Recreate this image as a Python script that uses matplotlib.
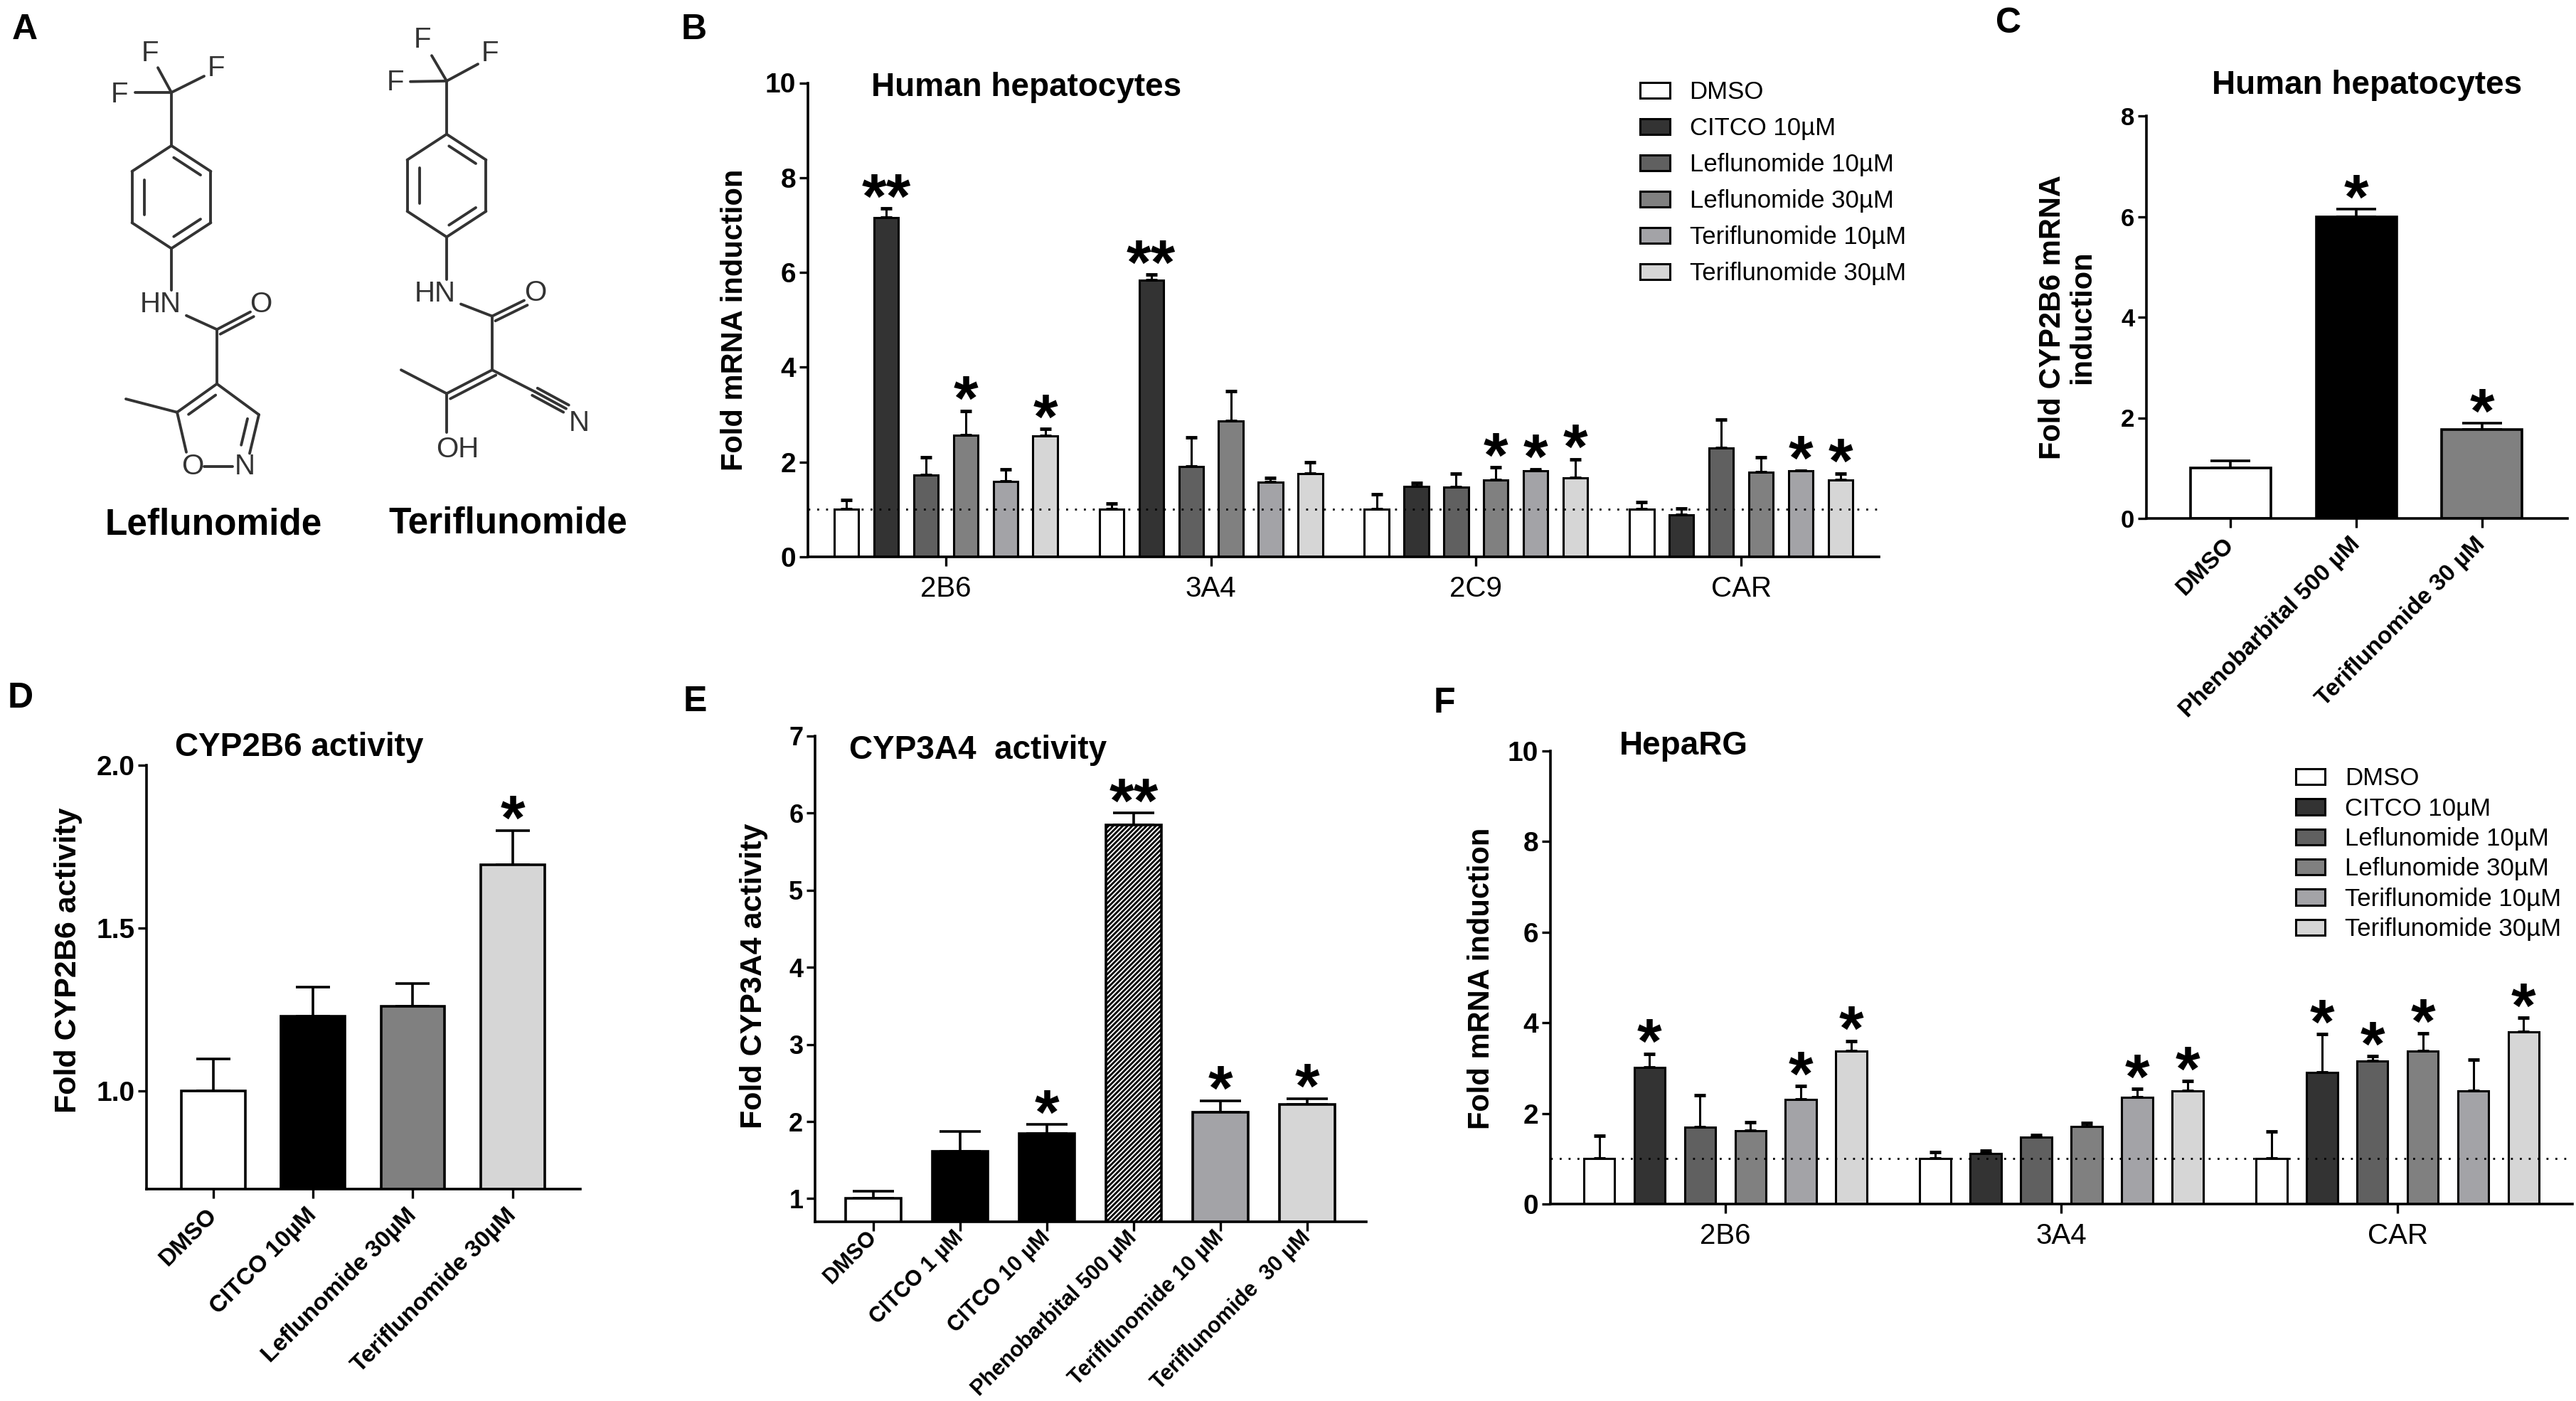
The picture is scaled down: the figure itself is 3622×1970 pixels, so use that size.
import numpy as np
import matplotlib
matplotlib.use("Agg")
import matplotlib.pyplot as plt

plt.rcParams['font.family'] = ['Liberation Sans', 'DejaVu Sans']
plt.rcParams['hatch.linewidth'] = 2.0

W, H = 3623, 1970

# ---- data -------------------------------------------------------------
treat_names = ['DMSO', 'CITCO 10µM', 'Leflunomide 10µM', 'Leflunomide 30µM',
               'Teriflunomide 10µM', 'Teriflunomide 30µM']
treat_colors = ['white', '#333333', '#606060', '#808080', '#a3a3a7', '#d6d6d6']

# B: human hepatocytes, mRNA
b_genes = ['2B6', '3A4', '2C9', 'CAR']
b_mean = [[1.00, 1.00, 1.00, 1.00],
          [7.15, 5.83, 1.49, 0.89],
          [1.73, 1.90, 1.47, 2.29],
          [2.57, 2.87, 1.62, 1.78],
          [1.59, 1.57, 1.81, 1.81],
          [2.55, 1.75, 1.66, 1.62]]
b_err = [[0.20, 0.12, 0.32, 0.16],
         [0.20, 0.12, 0.07, 0.13],
         [0.37, 0.62, 0.28, 0.61],
         [0.51, 0.62, 0.27, 0.32],
         [0.25, 0.09, 0.04, 0.01],
         [0.15, 0.25, 0.40, 0.14]]
b_star = [['', '', '', ''],
          ['**', '**', '', ''],
          ['', '', '', ''],
          ['*', '', '*', ''],
          ['', '', '*', '*'],
          ['*', '', '*', '*']]

# C: CYP2B6 mRNA
c_labels = ['DMSO', 'Phenobarbital 500 µM', 'Teriflunomide 30 µM']
c_mean = [1.00, 5.99, 1.76]
c_err = [0.15, 0.16, 0.13]
c_star = ['', '*', '*']
c_colors = ['white', 'black', '#808080']

# D: CYP2B6 activity
d_labels = ['DMSO', 'CITCO 10µM', 'Leflunomide 30µM', 'Teriflunomide 30µM']
d_mean = [1.00, 1.23, 1.26, 1.695]
d_err = [0.10, 0.09, 0.07, 0.105]
d_star = ['', '', '', '*']
d_colors = ['white', 'black', '#808080', '#d6d6d6']

# E: CYP3A4 activity
e_labels = ['DMSO', 'CITCO 1 µM', 'CITCO 10 µM', 'Phenobarbital 500 µM',
            'Teriflunomide 10 µM', 'Teriflunomide  30 µM']
e_mean = [1.00, 1.61, 1.84, 5.85, 2.12, 2.22]
e_err = [0.10, 0.26, 0.12, 0.15, 0.15, 0.08]
e_star = ['', '', '*', '**', '*', '*']
e_colors = ['white', 'black', 'black', 'white', '#a3a3a7', '#d6d6d6']
e_hatch = ['', '', '', '/////', '', '']

# F: HepaRG mRNA
f_genes = ['2B6', '3A4', 'CAR']
f_mean = [[1.00, 1.00, 1.00],
          [3.01, 1.11, 2.91],
          [1.69, 1.48, 3.16],
          [1.62, 1.71, 3.37],
          [2.30, 2.35, 2.50],
          [3.37, 2.50, 3.80]]
f_err = [[0.50, 0.14, 0.60],
         [0.31, 0.06, 0.84],
         [0.71, 0.04, 0.10],
         [0.19, 0.08, 0.40],
         [0.30, 0.19, 0.69],
         [0.23, 0.21, 0.31]]
f_star = [['', '', ''],
          ['*', '', '*'],
          ['', '', '*'],
          ['', '', '*'],
          ['*', '*', ''],
          ['*', '*', '*']]

fig = plt.figure(figsize=(W / 100, H / 100), dpi=100)


def box(x0, y0, x1, y1):
    return [x0 / W, 1 - y1 / H, (x1 - x0) / W, (y1 - y0) / H]


def ftext(x, y, s, **kw):
    fig.text(x / W, 1 - y / H, s, **kw)


def style_axes(ax, tick_size, tick_bold=True):
    for sp in ['top', 'right']:
        ax.spines[sp].set_visible(False)
    for sp in ['left', 'bottom']:
        ax.spines[sp].set_linewidth(2.6)
    ax.tick_params(direction='out', length=9, width=2.4, pad=3)
    for lab in ax.get_yticklabels():
        lab.set_fontsize(tick_size)
        if tick_bold:
            lab.set_fontweight('bold')


def stars(ax, x, top, s, size=64):
    if s:
        ax.annotate(s, (x, top), xytext=(0, -9), textcoords='offset points',
                    ha='center', va='baseline', fontsize=size,
                    fontweight='bold')


# ---- grouped panels (B, F) ---------------------------------------------
def grouped(ax, genes, means, errs, marks, ymax, legend_anchor, lspace):
    xg = np.arange(len(genes))
    step, bw = 0.15, 0.092
    for k in range(len(treat_names)):
        xs = xg + (k - 2.5) * step
        m = np.array(means[k])
        e = np.array(errs[k])
        ax.bar(xs, m, width=bw, color=treat_colors[k], edgecolor='black',
               linewidth=2.2, label=treat_names[k], zorder=2)
        ax.errorbar(xs, m, yerr=[np.zeros_like(e), e], fmt='none', ecolor='black',
                    elinewidth=2.2, capsize=6, capthick=3.5, zorder=1.5)
        for i in range(len(genes)):
            stars(ax, xs[i], m[i] + e[i], marks[k][i])
    ax.axhline(1, color='black', ls=(0, (1, 3.5)), lw=2, zorder=3)
    ax.set_xlim(-0.52, len(genes) - 1 + 0.52)
    ax.set_ylim(0, ymax)
    ax.set_yticks(np.arange(0, ymax + 1, 2))
    ax.set_xticks(xg)
    ax.set_xticklabels(genes, fontsize=29)
    style_axes(ax, 28)
    ax.tick_params(axis='x', pad=10)
    ax.legend(loc='upper left', bbox_to_anchor=legend_anchor, frameon=False,
              fontsize=25, handlelength=1.2, handleheight=0.62,
              handletextpad=0.8, labelspacing=lspace, borderpad=0,
              borderaxespad=0)


axB = fig.add_axes(box(1136, 116.5, 2642, 783))
grouped(axB, b_genes, b_mean, b_err, b_star, 10, (0.777, 1.005), 0.52)
ftext(1225, 135, 'Human hepatocytes', fontsize=33, fontweight='bold',
      ha='left', va='baseline')
ftext(1033, 450, 'Fold mRNA induction', fontsize=30, fontweight='bold',
      rotation=90, ha='center', va='center')

axF = fig.add_axes(box(2180, 1056, 3617, 1693))
grouped(axF, f_genes, f_mean, f_err, f_star, 10, (0.729, 0.965), 0.27)
ftext(2277, 1061, 'HepaRG', fontsize=33, fontweight='bold',
      ha='left', va='baseline')
ftext(2083, 1376, 'Fold mRNA induction', fontsize=30, fontweight='bold',
      rotation=90, ha='center', va='center')


# ---- single panels (C, D, E) -------------------------------------------
def single(ax, labels, means, errs, marks, colors, ylim, yticks, fmt, tsize,
           capsize, lsize=24, lpad=14, hatches=None):
    x = np.arange(len(means))
    m = np.array(means)
    e = np.array(errs)
    bars = ax.bar(x, m, width=0.64, color=colors, edgecolor='black',
                  linewidth=2.6, zorder=2)
    if hatches:
        for b, h in zip(bars, hatches):
            b.set_hatch(h)
    ax.errorbar(x, m, yerr=[np.zeros_like(e), e], fmt='none', ecolor='black',
                elinewidth=2.6, capsize=capsize, capthick=2.6, zorder=1.5)
    for i in range(len(means)):
        stars(ax, x[i], m[i] + e[i], marks[i])
    ax.set_xlim(-0.67, len(means) - 1 + 0.68)
    ax.set_ylim(*ylim)
    ax.set_yticks(yticks)
    ax.set_yticklabels([fmt.format(v) for v in yticks])
    ax.set_xticks(x)
    ax.set_xticklabels(labels, rotation=45, ha='right', va='center',
                       rotation_mode='anchor', fontsize=lsize, fontweight='bold')
    style_axes(ax, tsize)
    ax.tick_params(axis='x', pad=lpad)


axC = fig.add_axes(box(3018, 163, 3610, 729))
single(axC, c_labels, c_mean, c_err, c_star, c_colors, (0, 8), [0, 2, 4, 6, 8],
       '{:g}', 25, 20)
ftext(3328, 132, 'Human hepatocytes', fontsize=33, fontweight='bold',
      ha='center', va='baseline')
ftext(2907, 446, 'Fold CYP2B6 mRNA\ninduction', fontsize=30, fontweight='bold',
      rotation=90, ha='center', va='center', linespacing=1.05)

axD = fig.add_axes(box(206, 1076, 816, 1672))
single(axD, d_labels, d_mean, d_err, d_star, d_colors, (0.7, 2.0),
       [1.0, 1.5, 2.0], '{:.1f}', 28, 17)
ftext(421, 1063, 'CYP2B6 activity', fontsize=33, fontweight='bold',
      ha='center', va='baseline')
ftext(96, 1350, 'Fold CYP2B6 activity', fontsize=31, fontweight='bold',
      rotation=90, ha='center', va='center')

axE = fig.add_axes(box(1146, 1035, 1921, 1718))
single(axE, e_labels, e_mean, e_err, e_star, e_colors, (0.7, 7),
       [1, 2, 3, 4, 5, 6, 7], '{:g}', 26, 21, lsize=22, lpad=4,
       hatches=e_hatch)
ftext(1194, 1067, 'CYP3A4  activity', fontsize=33, fontweight='bold',
      ha='left', va='baseline')
ftext(1060, 1372, 'Fold CYP3A4 activity', fontsize=31, fontweight='bold',
      rotation=90, ha='center', va='center')

# ---- panel A: structures -----------------------------------------------
# drawn in a local frame; the y range is stretched so the frame maps onto
# the 950 px tall region at 0.85 scale
axA = fig.add_axes(box(0, 0, 1000, 950))
axA.set_xlim(0, 1000)
axA.set_ylim(950 / 0.85, 0)
axA.axis('off')
ink = '#333333'
blw = 2.8


def bond(p, q):
    axA.plot([p[0], q[0]], [p[1], q[1]], color=ink, lw=blw,
             solid_capstyle='round')


def inner(p, q, c, off=0.2, shrink=0.16):
    p, q, c = np.array(p, float), np.array(q, float), np.array(c, float)
    mid = (p + q) / 2
    d = c - mid
    d = d / np.linalg.norm(d) * off * np.linalg.norm(q - p)
    a = p + (q - p) * shrink + d
    b = q - (q - p) * shrink + d
    bond(a, b)


def parallel(p, q, off):
    p, q = np.array(p, float), np.array(q, float)
    v = q - p
    n = np.array([-v[1], v[0]]) / np.linalg.norm(v) * off
    bond(p + n, q + n)


def atom(p, s, size=29):
    axA.text(p[0], p[1], s, fontsize=size, color=ink, ha='center',
             va='center')


def ring(cx, cy, rx, ry):
    ang = np.deg2rad([90, 30, -30, -90, -150, 150])
    pts = [(cx + rx * np.cos(a), cy - ry * np.sin(a)) for a in ang]
    for i in range(6):
        bond(pts[i], pts[(i + 1) % 6])
    for i in (0, 2, 4):
        inner(pts[i], pts[i + 1], (cx, cy))
    return pts


# Leflunomide
cf = (241, 153)
bond(cf, (222, 112))
bond(cf, (287, 126))
bond(cf, (190, 153))
atom((211, 88), 'F')
atom((304, 113), 'F')
atom((168, 157), 'F')
r = ring(241, 326, 64, 85)
bond(cf, r[0])
bond(r[3], (241, 480))
atom((226, 504), 'HN')
cc = (305, 545)
bond((262, 522), cc)
bond(cc, (352, 516))
parallel(cc, (352, 516), 9)
atom((367, 503), 'O')
c4, c5, c3 = (305, 635), (249, 682), (364, 686)
bond(cc, c4)
bond(c4, c5)
inner(c4, c5, (307, 705), off=0.18)
bond(c5, (262, 748))
atom((271, 772), 'O')
bond((287, 772), (327, 772))
atom((344, 772), 'N')
bond((351, 750), c3)
inner((351, 750), c3, (307, 705), off=0.22)
bond(c3, c4)
bond(c5, (177, 660))
ftext(300, 752, 'Leflunomide', fontsize=37, fontweight='bold', ha='center',
      va='baseline')

# Teriflunomide
cf = (628, 134)
bond(cf, (607, 92))
bond(cf, (672, 106))
bond(cf, (577, 135))
atom((594, 66), 'F')
atom((689, 88), 'F')
atom((556, 137), 'F')
r = ring(628, 307, 64, 85)
bond(cf, r[0])
bond(r[3], (628, 462))
atom((612, 486), 'HN')
cc = (692, 523)
bond((648, 503), cc)
bond(cc, (737, 497))
parallel(cc, (737, 497), 9)
atom((753, 485), 'O')
ca, cb = (692, 612), (628, 651)
bond(cc, ca)
bond(ca, cb)
parallel(cb, ca, 10)
bond(cb, (564, 612))
bond(cb, (628, 715))
atom((643, 743), 'OH')
for off in (-7, 0, 7):
    parallel((752, 648), (796, 676), off)
bond(ca, (752, 648))
atom((814, 700), 'N')
ftext(714, 749, 'Teriflunomide', fontsize=37, fontweight='bold', ha='center',
      va='baseline')

# ---- panel letters -----------------------------------------------------
for letter, x, y in [('A', 35, 42), ('B', 976, 42), ('C', 2824, 33),
                     ('D', 29, 982), ('E', 977, 987), ('F', 2031, 989)]:
    ftext(x, y, letter, fontsize=36, fontweight='bold', ha='center',
          va='center')

fig.savefig('out.png', dpi=100)
